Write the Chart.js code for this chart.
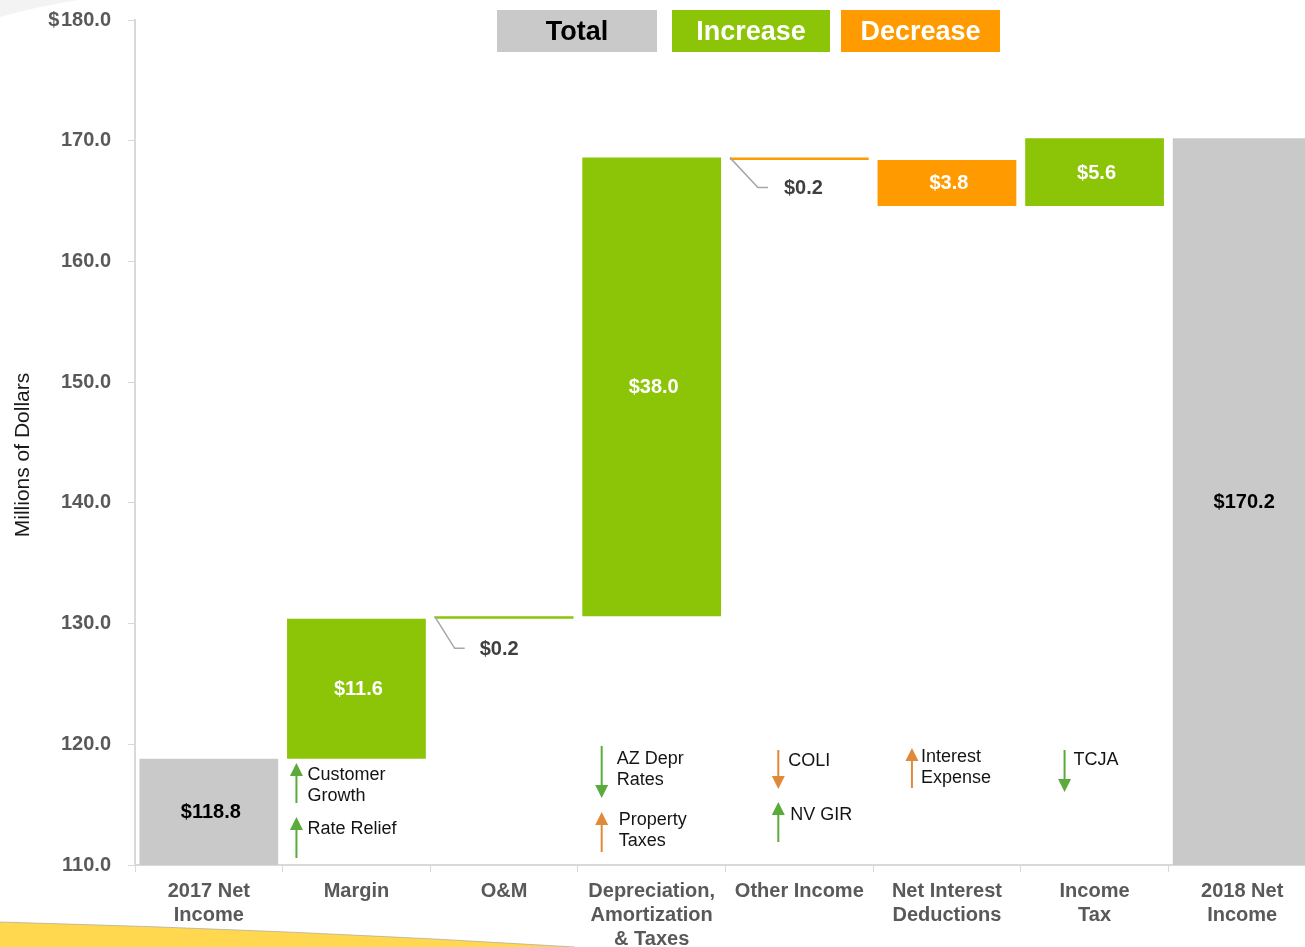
<!DOCTYPE html>
<html>
<head>
<meta charset="utf-8">
<title>2018 Net Income Bridge</title>
<script src="https://cdn.jsdelivr.net/npm/chart.js@4.4.1/dist/chart.umd.min.js"></script>
<style>
  html, body { margin: 0; padding: 0; background: #ffffff; overflow: hidden; }
  #wrap { position: absolute; left: 0; top: 0; width: 1316px; height: 947px; }
</style>
</head>
<body>
<div id="wrap"><canvas id="bridge" width="1316" height="947"></canvas></div>
<script>
// ---- Data -------------------------------------------------------------
const categories = [
  ['2017 Net', 'Income'],
  ['Margin'],
  ['O&M'],
  ['Depreciation,', 'Amortization', '& Taxes'],
  ['Other Income'],
  ['Net Interest', 'Deductions'],
  ['Income', 'Tax'],
  ['2018 Net', 'Income']
];
// Totals are absolute levels, the rest are changes to the running total
const stepValues = [118.8, 11.6, 0.2, 38.0, -0.2, -3.8, 5.6, 170.2];
const stepKinds = ['total', 'increase', 'increase', 'increase', 'decrease', 'decrease', 'increase', 'total'];
const valueLabels = ['$118.8', '$11.6', '$0.2', '$38.0', '$0.2', '$3.8', '$5.6', '$170.2'];

const yTickLabels = ['110.0', '120.0', '130.0', '140.0', '150.0', '160.0', '170.0', '$\u200A180.0'];
const axisMin = 110;
const axisMax = 180;

const legendLabels = ['Total', 'Increase', 'Decrease'];

// Driver notes under each bar
const driverText = [
  ['Customer', 'Growth'], ['Rate Relief'],
  ['AZ Depr', 'Rates'], ['Property', 'Taxes'],
  ['COLI'], ['NV GIR'],
  ['Interest', 'Expense'],
  ['TCJA']
];
const driverCategory = [1, 1, 3, 3, 4, 4, 5, 6];
const driverDirection = ['up', 'up', 'down', 'up', 'down', 'up', 'up', 'down'];
const driverEffect = ['increase', 'increase', 'increase', 'decrease', 'decrease', 'increase', 'decrease', 'increase'];

// ---- Styling ----------------------------------------------------------
const COLORS = { total: '#c9c9c9', increase: '#8cc408', decrease: '#ff9a00' };
const ARROW_COLORS = { increase: '#5aab3c', decrease: '#e0893b' };
const FONT = '"Liberation Sans", Arial, Helvetica, sans-serif';
const AXIS_GREY = '#d9d9d9';

// arrow x / text x offsets from category centre, arrow span and text line centres
const driverLayout = [
  { ax: -60, tx: -49, top: 763, bottom: 803, lines: [775, 796] },
  { ax: -60, tx: -49, top: 817, bottom: 858, lines: [829] },
  { ax: -50, tx: -35, top: 746, bottom: 798, lines: [759, 780] },
  { ax: -50, tx: -33, top: 812, bottom: 852, lines: [820, 841] },
  { ax: -21, tx: -11, top: 750, bottom: 789, lines: [761] },
  { ax: -21, tx: -9,  top: 802, bottom: 842, lines: [815] },
  { ax: -35, tx: -26, top: 748, bottom: 788, lines: [757, 778] },
  { ax: -30, tx: -21, top: 750, bottom: 792, lines: [760] }
];

// leader-line callouts for steps too small to hold their own label
const calloutLayout = {
  2: { dx: 20, dy: 32, end: 30, text: 45 },
  4: { dx: 28, dy: 30, end: 38, text: 54 }
};

// ---- Waterfall ranges built from the step values ---------------------
const ranges = [];
let running = 0;
stepValues.forEach((v, i) => {
  if (stepKinds[i] === 'total') {
    running = v;
    ranges.push([axisMin, v]);
  } else {
    ranges.push([running, running + v]);
    running += v;
  }
});

// ---- Plugins ------------------------------------------------------------
const decorPlugin = {
  id: 'decor',
  beforeDraw(chart) {
    const ctx = chart.ctx;
    ctx.save();
    // faint grey sweep in the top-left corner
    ctx.fillStyle = '#f3f3f3';
    ctx.beginPath();
    ctx.moveTo(0, 0);
    ctx.lineTo(78, 0);
    ctx.quadraticCurveTo(30, 8, 0, 17);
    ctx.closePath();
    ctx.fill();
    // yellow sweep along the bottom-left edge
    ctx.fillStyle = '#ffd84f';
    ctx.beginPath();
    ctx.moveTo(0, 922);
    ctx.quadraticCurveTo(300, 930, 575, 947);
    ctx.lineTo(0, 947);
    ctx.closePath();
    ctx.fill();
    ctx.strokeStyle = 'rgba(170,170,170,0.7)';
    ctx.lineWidth = 1;
    ctx.beginPath();
    ctx.moveTo(0, 922);
    ctx.quadraticCurveTo(300, 930, 575, 947);
    ctx.stroke();
    ctx.restore();
  },
  afterDraw(chart) {
    const ctx = chart.ctx;
    ctx.save();
    // legend boxes
    const boxes = [
      { x: 497, w: 160, fill: COLORS.total, text: '#000000' },
      { x: 672, w: 158, fill: COLORS.increase, text: '#ffffff' },
      { x: 841, w: 159, fill: COLORS.decrease, text: '#ffffff' }
    ];
    ctx.font = 'bold 27px ' + FONT;
    ctx.textAlign = 'center';
    ctx.textBaseline = 'middle';
    boxes.forEach((b, i) => {
      ctx.fillStyle = b.fill;
      ctx.fillRect(b.x, 10, b.w, 42);
      ctx.fillStyle = b.text;
      ctx.fillText(legendLabels[i], b.x + b.w / 2, 33);
    });
    // y axis title
    ctx.translate(23, 455);
    ctx.rotate(-Math.PI / 2);
    ctx.font = '21px ' + FONT;
    ctx.fillStyle = '#1a1a1a';
    ctx.fillText('Millions of Dollars', 0, 0);
    ctx.restore();
  }
};

const labelPlugin = {
  id: 'barLabels',
  afterDatasetsDraw(chart) {
    const ctx = chart.ctx;
    const meta = chart.getDatasetMeta(0);
    ctx.save();
    ctx.textBaseline = 'middle';
    meta.data.forEach((bar, i) => {
      const top = Math.min(bar.y, bar.base);
      const bottom = Math.max(bar.y, bar.base);
      const left = bar.x - bar.width / 2;
      const c = calloutLayout[i];
      if (c) {
        ctx.strokeStyle = '#a6a6a6';
        ctx.lineWidth = 1.5;
        ctx.beginPath();
        ctx.moveTo(left, top);
        ctx.lineTo(left + c.dx, top + c.dy);
        ctx.lineTo(left + c.end, top + c.dy);
        ctx.stroke();
        ctx.font = 'bold 20px ' + FONT;
        ctx.fillStyle = '#3f3f3f';
        ctx.textAlign = 'left';
        ctx.fillText(valueLabels[i], left + c.text, top + c.dy + 1);
      } else {
        ctx.font = 'bold 20px ' + FONT;
        ctx.fillStyle = stepKinds[i] === 'total' ? '#000000' : '#ffffff';
        ctx.textAlign = 'center';
        ctx.fillText(valueLabels[i], bar.x + 2, (top + bottom) / 2 + 1);
      }
    });
    ctx.restore();
  }
};

const driverPlugin = {
  id: 'drivers',
  afterDatasetsDraw(chart) {
    const ctx = chart.ctx;
    const xs = chart.scales.x;
    ctx.save();
    driverText.forEach((lines, i) => {
      const lay = driverLayout[i];
      const cx = xs.getPixelForValue(driverCategory[i]);
      const ax = cx + lay.ax;
      const color = ARROW_COLORS[driverEffect[i]];
      const head = 13;
      ctx.strokeStyle = color;
      ctx.fillStyle = color;
      ctx.lineWidth = 2;
      ctx.beginPath();
      if (driverDirection[i] === 'up') {
        ctx.moveTo(ax, lay.bottom);
        ctx.lineTo(ax, lay.top + head - 1);
        ctx.stroke();
        ctx.beginPath();
        ctx.moveTo(ax, lay.top);
        ctx.lineTo(ax - 6.5, lay.top + head);
        ctx.lineTo(ax + 6.5, lay.top + head);
      } else {
        ctx.moveTo(ax, lay.top);
        ctx.lineTo(ax, lay.bottom - head + 1);
        ctx.stroke();
        ctx.beginPath();
        ctx.moveTo(ax, lay.bottom);
        ctx.lineTo(ax - 6.5, lay.bottom - head);
        ctx.lineTo(ax + 6.5, lay.bottom - head);
      }
      ctx.closePath();
      ctx.fill();
      ctx.font = '18px ' + FONT;
      ctx.fillStyle = '#141414';
      ctx.textAlign = 'left';
      ctx.textBaseline = 'middle';
      lines.forEach((t, k) => ctx.fillText(t, cx + lay.tx, lay.lines[k]));
    });
    ctx.restore();
  }
};

// ---- Chart ----------------------------------------------------------------
new Chart(document.getElementById('bridge'), {
  type: 'bar',
  data: {
    labels: categories,
    datasets: [{
      data: ranges,
      backgroundColor: stepKinds.map(k => COLORS[k]),
      borderWidth: 0,
      borderSkipped: false,
      barPercentage: 0.94,
      categoryPercentage: 1.0
    }]
  },
  options: {
    responsive: false,
    animation: false,
    layout: { padding: { top: 20, right: 0, left: 0, bottom: 0 } },
    plugins: {
      legend: { display: false },
      tooltip: { enabled: false }
    },
    scales: {
      x: {
        grid: {
          display: true,
          drawOnChartArea: false,
          drawTicks: true,
          tickLength: 7,
          color: AXIS_GREY,
          offset: true
        },
        border: { color: AXIS_GREY, width: 2 },
        ticks: {
          color: '#595959',
          font: { family: FONT, size: 20, weight: 'bold', lineHeight: 1.2 },
          padding: 7,
          maxRotation: 0,
          autoSkip: false
        },
        afterFit(scale) { scale.height = 82; }
      },
      y: {
        min: axisMin,
        max: axisMax,
        grid: {
          display: true,
          drawOnChartArea: false,
          drawTicks: true,
          tickLength: 7,
          color: AXIS_GREY
        },
        border: { color: AXIS_GREY, width: 2 },
        ticks: {
          stepSize: 10,
          color: '#595959',
          font: { family: FONT, size: 20, weight: 'bold' },
          padding: 17,
          callback: (v, i) => yTickLabels[i]
        },
        afterFit(scale) {
          scale.width = 135;
          scale.paddingTop = 0;
          scale.paddingBottom = 0;
        }
      }
    }
  },
  plugins: [decorPlugin, labelPlugin, driverPlugin]
});
</script>
</body>
</html>
